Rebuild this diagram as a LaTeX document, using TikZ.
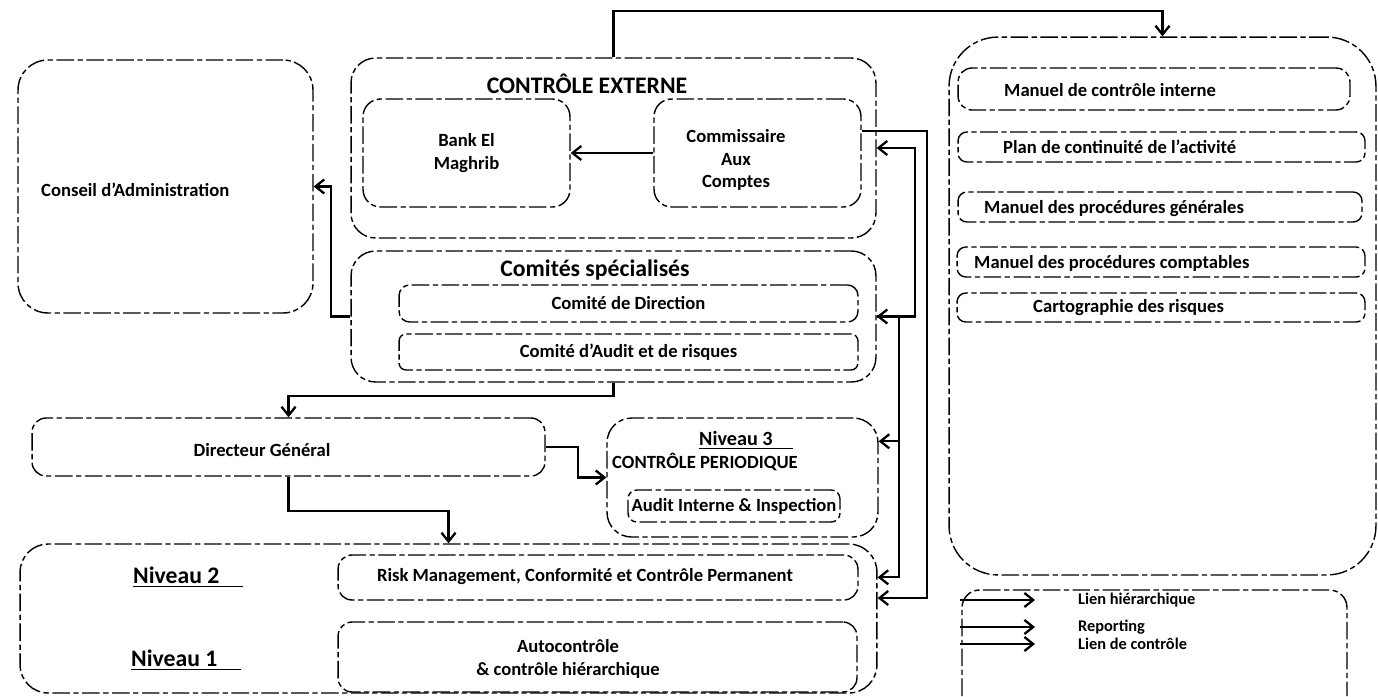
\documentclass[tikz,border=0pt]{standalone}
\usepackage{fontspec}
\setmainfont{Carlito}
\usetikzlibrary{positioning, calc, arrows.meta}

\begin{document}
\begin{tikzpicture}[x=0.02cm, y=-0.02cm,
    font=\fontsize{10.6}{13}\selectfont\bfseries,
    every node/.append style={align=center},
    box/.style={draw, line width=0.8pt, dash pattern=on 10pt off 2pt on 3pt off 2pt, rounded corners=#1, inner sep=0pt},
    box/.default=8pt,
    link/.style={line width=1.3pt, -{Straight Barb[length=5pt, width=8pt]}},
    titre/.style={font=\fontsize{13.5}{15}\selectfont\bfseries},
    niveau/.style={font=\fontsize{13.5}{15}\selectfont\bfseries, anchor=west}]

    \useasboundingbox (0,0) rectangle (1378,696);

    % Conseil d'Administration
    \node[box=17pt, minimum width=5.9cm, minimum height=5.06cm] (conseil) at (165.5,186.5) {};
    \node[anchor=west] (conseiltxt) at (35,190) {Conseil d’Administration};

    % Controle externe
    \node[box=14pt, minimum width=10.5cm, minimum height=3.6cm] (ce) at (613.5,148) {};
    \node[titre] (cetitre) at (587,84) {CONTRÔLE EXTERNE};
    \node[box=10pt, minimum width=4.14cm, minimum height=2.16cm] (bam) at (466.5,153) {Bank El\\Maghrib};
    \node[box=10pt, minimum width=4.14cm, minimum height=2.16cm] (cac) at (757.5,153) {};
    \node (cactxt) at (736,160) {Commissaire\\Aux\\Comptes};

    % Comites specialises
    \node[box=14pt, minimum width=10.5cm, minimum height=2.62cm] (cs) at (613.5,316.5) {};
    \node[titre] (cstitre) at (595,270) {Comités spécialisés};
    \node[box=6pt, minimum width=9.18cm, minimum height=0.74cm] (cdir) at (628.5,303.5) {Comité de Direction};
    \node[box=4pt, minimum width=9.18cm, minimum height=0.72cm] (caud) at (628.5,352) {Comité d’Audit et de risques};

    % Directeur General
    \node[box, minimum width=10.26cm, minimum height=1.16cm] (dg) at (288.5,447) {};
    \node (dgtxt) at (262,450) {Directeur Général};

    % Niveau 3 : controle periodique
    \node[box=14pt, minimum width=5.42cm, minimum height=2.38cm] (cp) at (742.5,477.5) {};
    \node[anchor=west, font=\fontsize{11.5}{13}\selectfont\bfseries] (n3) at (693,440) {\underline{Niveau 3\hspace{1em}}};
    \node (cptxt) at (705,462) {CONTRÔLE PERIODIQUE};
    \node[box=5pt, minimum width=4.24cm, minimum height=0.64cm] (audit) at (734,506) {Audit Interne \& Inspection};

    % Niveaux 1 et 2
    \node[box=16pt, minimum width=17.14cm, minimum height=2.98cm] (niv) at (448.5,618.5) {};
    \node[box, minimum width=10.4cm, minimum height=0.9cm] (risk) at (598,577.5) {};
    \node (risktxt) at (585,577) {Risk Management, Conformité et Contrôle Permanent};
    \node[box, minimum width=10.38cm, minimum height=1.4cm] (auto) at (597.5,657) {};
    \node (autotxt) at (568,659) {Autocontrôle\\\& contrôle hiérarchique};
    \node[niveau] (n2) at (127,577) {\underline{Niveau 2\hspace{1em}}};
    \node[niveau] (n1) at (125,660) {\underline{Niveau 1\hspace{1em}}};

    % Manuels et procedures
    \node[box=28pt, minimum width=8.54cm, minimum height=10.76cm] (manuels) at (1162.5,306) {};
    \node[box, minimum width=7.84cm, minimum height=0.84cm] (m1) at (1154,89) {};
    \node[anchor=west] (m1txt) at (998,90) {Manuel de contrôle interne};
    \node[box=5pt, minimum width=8.14cm, minimum height=0.6cm] (m2) at (1161.5,147) {};
    \node[anchor=west] (m2txt) at (997,147) {Plan de continuité de l’activité};
    \node[box=5pt, minimum width=8.08cm, minimum height=0.6cm] (m3) at (1160,207) {};
    \node[anchor=west] (m3txt) at (978,209) {Manuel des procédures générales};
    \node[box=5pt, minimum width=8.16cm, minimum height=0.6cm] (m4) at (1161,262) {};
    \node[anchor=west] (m4txt) at (968,263) {Manuel des procédures comptables};
    \node[box=5pt, minimum width=8.16cm, minimum height=0.58cm] (m5) at (1161,307.5) {};
    \node[anchor=west] (m5txt) at (1027,308) {Cartographie des risques};

    % bus verticaux a droite
    \coordinate (busA) at (927,0);
    \coordinate (busB) at (915,0);
    \coordinate (busC) at (899,0);

    % liens
    \draw[link] (ce.north) -- ++(0,-46) -| (manuels.north);
    \draw[link] (cac.west) -- (bam.east);
    \draw[link] (cs.west) -- ++(-19,0) |- (conseil.east);
    \draw[link] (cs.south) -- ++(0,13) -| (dg.north);
    \draw[link] (dg.east) -- ++(32,0) |- (cp.west);
    \draw[link] (dg.south) -- ++(0,34) -| (niv.north);
    \draw[link] ([yshift=0.44cm]cac.east) -- ([yshift=0.44cm]cac.east -| busA) |- ([yshift=0.41cm]niv.east);
    \draw[link] (cs.east) -- (cs.east -| busB) |- (ce.east);
    \draw[link] (cs.east -| busC) -- (cs.east);
    \draw[link] (cs.east -| busC) |- ([yshift=-0.48cm]cp.north east);
    \draw[link] (cs.east -| busC) |- ([yshift=-0.68cm]niv.north east);

    % legende
    \draw[box=10pt] (962,696) |- (1347,590) -- (1347,696);
    \foreach \y/\t in {600/Lien hiérarchique, 627/Reporting, 644/Lien de contrôle} {
        \coordinate (ls\y) at (960,\y);
        \coordinate (le\y) at (1035,\y);
        \draw[link] (ls\y) -- (le\y);
        \node[anchor=west, font=\fontsize{9.3}{11}\selectfont\bfseries] (lt\y) at (1072,\y) {\t};
    }

\end{tikzpicture}
\end{document}
